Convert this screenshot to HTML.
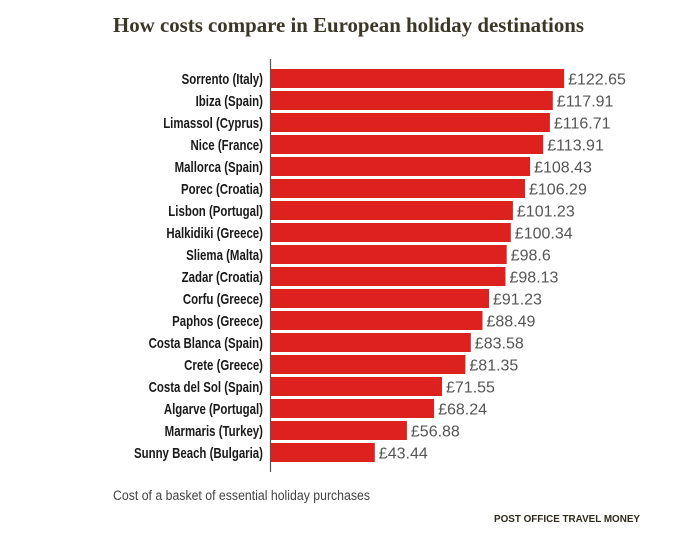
<!DOCTYPE html>
<html><head><meta charset="utf-8"><style>
body{margin:0;background:#fff;width:683px;height:533px;overflow:hidden;font-family:"Liberation Sans",sans-serif}
</style></head><body>
<svg width="683" height="533" xmlns="http://www.w3.org/2000/svg">
<text x="113" y="32" font-family="Liberation Serif,serif" font-weight="bold" font-size="21" fill="#3b3626" textLength="471" lengthAdjust="spacingAndGlyphs">How costs compare in European holiday destinations</text>
<line x1="270.5" y1="59" x2="270.5" y2="472" stroke="#555" stroke-width="1.2"/>
<g id="bars"></g>
<text x="113" y="500" font-size="13.5" fill="#444" textLength="257" lengthAdjust="spacingAndGlyphs">Cost of a basket of essential holiday purchases</text>
<text x="494" y="522" font-size="10.5" font-weight="bold" fill="#2e2a1c" textLength="146" lengthAdjust="spacingAndGlyphs">POST OFFICE TRAVEL MONEY</text>
</svg>
<script>
const d=[["Sorrento (Italy)",122.65],["Ibiza (Spain)",117.91],["Limassol (Cyprus)",116.71],["Nice (France)",113.91],["Mallorca (Spain)",108.43],["Porec (Croatia)",106.29],["Lisbon (Portugal)",101.23],["Halkidiki (Greece)",100.34],["Sliema (Malta)",98.6],["Zadar (Croatia)",98.13],["Corfu (Greece)",91.23],["Paphos (Greece)",88.49],["Costa Blanca (Spain)",83.58],["Crete (Greece)",81.35],["Costa del Sol (Spain)",71.55],["Algarve (Portugal)",68.24],["Marmaris (Turkey)",56.88],["Sunny Beach (Bulgaria)",43.44]];
let s="";d.forEach((r,i)=>{const y=69+i*22,w=r[1]*2.39,vx=(271+w+4).toFixed(1);
s+=`<rect x="271" y="${y}" width="${w.toFixed(1)}" height="19" fill="#dc211e"/>`;
s+=`<text x="263" y="${y+15}" text-anchor="end" font-size="14.5" font-weight="bold" fill="#1a1a1a" transform="translate(263 0) scale(0.79 1) translate(-263 0)">${r[0]}</text>`;
s+=`<text x="${vx}" y="${y+15.5}" font-size="16" fill="#555" transform="translate(${vx} 0) scale(1.0 1) translate(-${vx} 0)">£${r[1]}</text>`;});
document.getElementById("bars").innerHTML=s;
</script>
</body></html>
